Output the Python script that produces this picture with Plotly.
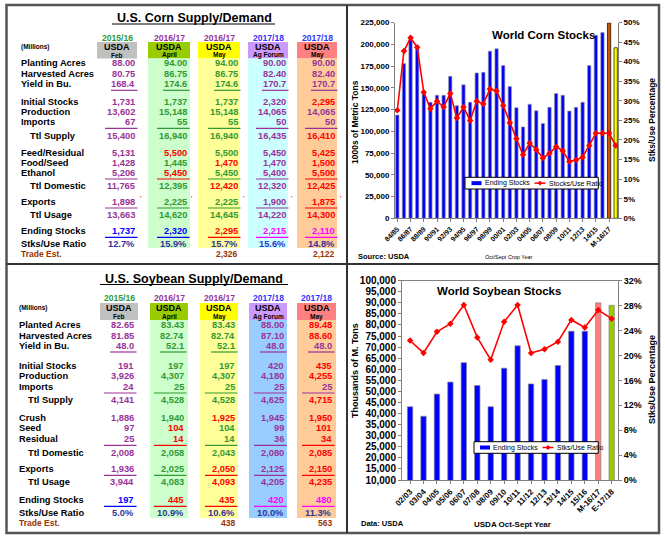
import plotly.graph_objects as go

W, H = 665, 540
FONT = "Liberation Sans, Arial, sans-serif"

# ---------------- chart data ----------------
corn_years = ["84/85", "85/86", "86/87", "87/88", "88/89", "89/90", "90/91", "91/92", "92/93",
              "93/94", "94/95", "95/96", "96/97", "97/98", "98/99", "99/00", "00/01", "01/02",
              "02/03", "03/04", "04/05", "05/06", "06/07", "07/08", "08/09", "09/10", "10/11",
              "11/12", "12/13", "13/14", "14/15", "15/16", "M-16/17", "17/18"]
corn_stocks = [118600, 177800, 205500, 198000, 143700, 133300, 141400, 141400, 163100, 129400,
               153400, 133300, 167000, 167700, 192100, 194800, 175500, 151500, 127100, 105000,
               131000, 123600, 109000, 127500, 143400, 141400, 123200, 127500, 133300, 175500,
               210300, 213400, 224500, 196000]
corn_ratio = [27.6, 42.7, 46.1, 43.7, 32.2, 28.0, 29.9, 28.4, 31.9, 25.6, 28.4, 25.0, 29.9, 29.2,
              33.0, 32.5, 28.8, 24.4, 20.3, 16.2, 19.2, 17.5, 15.4, 16.6, 18.3, 17.2, 14.5, 14.9,
              15.6, 18.6, 21.7, 21.7, 21.7, 18.6]

soy_years = ["02/03", "03/04", "04/05", "05/06", "06/07", "07/08", "08/09", "09/10", "10/11",
             "11/12", "12/13", "13/14", "14/15", "15/16", "M-16/17", "E-17/18"]
soy_stocks = [43100, 38800, 48800, 54200, 63000, 52700, 43100, 60500, 70600, 53400, 55400,
              61700, 77200, 77200, 90000, 88900]
soy_ratio = [22.4, 20.4, 23.8, 25.1, 28.1, 22.9, 19.3, 25.4, 28.1, 20.4, 21.0, 22.2, 25.7,
             24.5, 27.3, 25.9]

# ---------------- table data ----------------
col_years = ["2015/16", "2016/17", "2016/17", "2017/18", "2017/18"]
col_sources = ["Feb", "April", "May", "Ag Forum", "May"]

corn_rows = ["Planting Acres", "Harvested Acres", "Yield in Bu.", "Initial Stocks", "Production",
             "Imports", "Ttl Supply", "Feed/Residual", "Food/Seed", "Ethanol", "Ttl Domestic",
             "Exports", "Ttl Usage", "Ending Stocks", "Stks/Use Ratio"]
corn_c1 = ["88.00", "80.75", "168.4", "1,731", "13,602", "67", "15,400", "5,131", "1,428", "5,206",
           "11,765", "1,898", "13,663", "1,737", "12.7%"]
corn_c2 = ["94.00", "86.75", "174.6", "1,737", "15,148", "55", "16,940", "5,500", "1,445", "5,450",
           "12,395", "2,225", "14,620", "2,320", "15.9%"]
corn_c3 = ["94.00", "86.75", "174.6", "1,737", "15,148", "55", "16,940", "5,500", "1,470", "5,450",
           "12,420", "2,225", "14,645", "2,295", "15.7%"]
corn_c4 = ["90.00", "82.40", "170.7", "2,320", "14,065", "50", "16,435", "5,450", "1,470", "5,400",
           "12,320", "1,900", "14,220", "2,215", "15.6%"]
corn_c5 = ["90.00", "82.40", "170.7", "2,295", "14,065", "50", "16,410", "5,425", "1,500", "5,500",
           "12,425", "1,875", "14,300", "2,110", "14.8%"]
corn_trade = ["", "", "2,326", "", "2,122"]

soy_rows = ["Planted Acres", "Harvested Acres", "Yield in Bu.", "Initial Stocks", "Production",
            "Imports", "Ttl Supply", "Crush", "Seed", "Residual", "Ttl Domestic", "Exports",
            "Ttl Usage", "Ending Stocks", "Stks/Use Ratio"]
soy_c1 = ["82.65", "81.85", "48.0", "191", "3,926", "24", "4,141", "1,886", "97", "25", "2,008",
          "1,936", "3,944", "197", "5.0%"]
soy_c2 = ["83.43", "82.74", "52.1", "197", "4,307", "25", "4,528", "1,940", "104", "14", "2,058",
          "2,025", "4,083", "445", "10.9%"]
soy_c3 = ["83.43", "82.74", "52.1", "197", "4,307", "25", "4,528", "1,925", "104", "14", "2,043",
          "2,050", "4,093", "435", "10.6%"]
soy_c4 = ["88.00", "87.10", "48.0", "420", "4,180", "25", "4,625", "1,945", "99", "36", "2,080",
          "2,125", "4,205", "420", "10.0%"]
soy_c5 = ["89.48", "88.60", "48.0", "435", "4,255", "25", "4,715", "1,950", "101", "34", "2,085",
          "2,150", "4,235", "480", "11.3%"]
soy_trade = ["", "", "438", "", "563"]

# ---------------- styles ----------------
P, G, R, B, M, N, NB, BR = ("#993399", "#339933", "#ff0000", "#0000ff", "#ff00ff",
                            "#333399", "#3333cc", "#993300")
corn_colors = [
    [P] * 13 + [B, N],
    [G, G, G, G, G, G, G, R, G, R, G, G, G, B, N],
    [G, G, G, G, G, G, G, G, R, G, R, G, G, R, N],
    [P] * 13 + [M, NB],
    [P, P, P, R, P, P, R, R, R, R, R, R, R, M, N],
]
soy_colors = [
    [P] * 13 + [B, N],
    [G, G, G, G, G, G, G, G, R, R, G, G, G, R, N],
    [G, G, G, G, G, G, G, R, G, G, G, R, R, R, N],
    [P] * 13 + [M, N],
    [R, R, P, R, R, P, R, R, R, R, R, R, R, M, N],
]
year_colors = ["#339933", "#993399", "#993399", "#3333ff", "#3333ff"]
box_colors = ["#c0c0c0", "#99cc00", "#ffff00", "#cc99ff", "#ff8080"]
corn_bands = [None, "#ccffcc", "#ffff99", "#ccffff", "#ffcc99"]
soy_bands = [None, "#ccffcc", "#ffff99", "#99ccff", "#ffcc99"]


def px(x):
    return x / W


def py(y):
    return 1 - y / H


shapes = []
annotations = []


def text(x, y, s, size, color="black", anchor="left", bold=True, angle=0):
    annotations.append(dict(
        x=px(x), y=py(y), xref="paper", yref="paper", text=s, showarrow=False,
        xanchor=anchor, yanchor="middle", textangle=angle,
        font=dict(family=FONT, size=size, color=color, weight="bold" if bold else "normal"),
        borderpad=0))


def rect(x0, y0, x1, y1, fill, line=None, lw=0, layer="below"):
    shapes.append(dict(type="rect", xref="paper", yref="paper", x0=px(x0), x1=px(x1),
                       y0=py(y1), y1=py(y0), fillcolor=fill, layer=layer,
                       line=dict(color=line or fill, width=lw)))


def hline(x0, x1, y, color, width=1.0, layer="above"):
    shapes.append(dict(type="line", xref="paper", yref="paper", x0=px(x0), x1=px(x1),
                       y0=py(y), y1=py(y), layer=layer, line=dict(color=color, width=width)))


def vline(x, y0, y1, color, width=1.0):
    shapes.append(dict(type="line", xref="paper", yref="paper", x0=px(x), x1=px(x),
                       y0=py(y0), y1=py(y1), line=dict(color=color, width=width)))


def diamond(x, y, r, color):
    shapes.append(dict(type="path", xref="paper", yref="paper", layer="above",
                       path=f"M {px(x)},{py(y - r)} L {px(x + r)},{py(y)} L {px(x)},{py(y + r)} "
                            f"L {px(x - r)},{py(y)} Z",
                       fillcolor=color, line=dict(color=color, width=0.5)))


def draw_table(title, title_xy, ul, years_y, box_y, boxes_x, band_bottom, bands, rows, cols,
               colors, trade, row_ys, trade_y, label_x, rights, underline_rows, ticks_row=None):
    text(title_xy[0], title_xy[1], title, 12.5, anchor="center")
    hline(ul[0], ul[1], ul[2], "black", 1.2)
    text(label_x, box_y[0] + 5, "(Millions)", 6.5)
    for i in range(5):
        x0, x1 = boxes_x[i]
        cx = (x0 + x1) / 2
        text(cx, years_y, col_years[i], 8.6, year_colors[i], "center")
        rect(x0, box_y[0], x1, box_y[1], box_colors[i])
        if bands[i]:
            rect(x0, box_y[1], x1, band_bottom, bands[i])
        text(cx, box_y[0] + 4.5, "USDA", 9, anchor="center")
        text(cx, box_y[1] - 3.5, col_sources[i], 6.5, anchor="center")
    indented = {"Ttl Supply", "Ttl Domestic", "Ttl Usage"}
    for r, lab in enumerate(rows):
        lx = label_x + 8.5 if lab in indented else label_x
        text(lx, row_ys[r], lab, 9.3)
        for c in range(5):
            text(rights[c], row_ys[r], cols[c][r], 9.3, colors[c][r], "right")
            if r in underline_rows:
                w = 25 if r == 2 else 31
                hline(rights[c] - w, rights[c] + 1.5, row_ys[r] + 6.3, colors[c][r], 1.2)
            if ticks_row is not None and r == ticks_row:
                text(rights[c] + 2.5, row_ys[r] - 4, "'", 6, R)
    text(label_x, trade_y, "Trade Est.", 8.5, BR)
    for c in range(5):
        if trade[c]:
            text(rights[c], trade_y, trade[c], 8.5, BR, "right")


draw_table("U.S. Corn Supply/Demand", (194, 18), (112, 275, 24), 38, (42, 58.5),
           [(97, 137), (148, 190), (198, 240), (248, 288), (297, 337)], 248, corn_bands,
           corn_rows, [corn_c1, corn_c2, corn_c3, corn_c4, corn_c5], corn_colors, corn_trade,
           [63, 74, 84, 102, 112, 122, 135.7, 152.7, 162.7, 172.7, 186, 201.7, 215, 231, 244],
           254, 20, [136, 188, 239, 287, 336], {2, 5, 9, 11, 13}, ticks_row=11)

draw_table("U.S. Soybean Supply/Demand", (194, 279), (100, 288, 284.5), 298, (303, 320),
           [(100, 138), (150, 188), (200, 238), (249, 287), (297, 336)], 518, soy_bands,
           soy_rows, [soy_c1, soy_c2, soy_c3, soy_c4, soy_c5], soy_colors, soy_trade,
           [325, 335.7, 345.7, 365.7, 376, 386.7, 399.5, 417.7, 428.3, 439, 452.7, 469, 482.3,
            500, 513], 522.5, 18, [135, 185, 236, 285, 333], {2, 5, 9, 11, 13})

# frame and dividers
shapes.append(dict(type="rect", xref="paper", yref="paper", x0=px(6.5), x1=px(659),
                   y0=py(533), y1=py(5), line=dict(color="#555555", width=2.5)))
vline(347, 5, 533, "#333333", 2)
hline(6.5, 659, 264, "#333333", 2)


# manual legends (boxes drawn over the plots)
def legend_box(x0, y0, x1, y1, sw, t1, lx, t2):
    rect(x0, y0, x1, y1, "white", "black", 1, layer="above")
    yc = (y0 + y1) / 2
    rect(sw, yc - 2, sw + 10, yc + 2, "#0000ff", layer="above")
    text(sw + 12, yc, t1, 7, bold=False)
    hline(lx, lx + 11, yc, "#ff0000", 1.5)
    diamond(lx + 5.5, yc, 2.2, "#ff0000")
    text(lx + 13, yc, t2, 7, bold=False)


# ---------------- charts ----------------
fig = go.Figure()

corn_bar_colors = ["#0000ff"] * (len(corn_years) - 2) + ["#cc5500", "#ffff00"]
corn_bar_lines = ["#999999"] * (len(corn_years) - 2) + ["#000000", "#000000"]
fig.add_trace(go.Bar(x=corn_years, y=corn_stocks, name="Ending Stocks", width=0.5,
                     marker=dict(color=corn_bar_colors, line=dict(color=corn_bar_lines, width=0.7)),
                     xaxis="x", yaxis="y"))
fig.add_trace(go.Scatter(x=corn_years, y=corn_ratio, name="Stocks/Use Ratio", mode="lines+markers",
                         line=dict(color="#ff0000", width=1.6),
                         marker=dict(symbol="diamond", size=5, color="#ff0000"),
                         xaxis="x", yaxis="y2"))

soy_bar_colors = ["#0000ff"] * (len(soy_years) - 2) + ["#ff8080", "#99cc00"]
fig.add_trace(go.Bar(x=soy_years, y=soy_stocks, name="Ending Stocks", width=0.4,
                     marker=dict(color=soy_bar_colors, line=dict(color="#888888", width=0.7)),
                     xaxis="x2", yaxis="y3"))
fig.add_trace(go.Scatter(x=soy_years, y=soy_ratio, name="Stks/Use Ratio", mode="lines+markers",
                         line=dict(color="#ff0000", width=1.6),
                         marker=dict(symbol="diamond", size=5, color="#ff0000"),
                         xaxis="x2", yaxis="y4"))

axis_common = dict(showgrid=False, zeroline=False, showline=True, linecolor="#808080",
                   linewidth=1, ticks="outside", ticklen=3, tickcolor="#808080",
                   automargin=False)


def tickf(s):
    return dict(family=FONT, size=s, color="black", weight="bold")


fig.update_layout(
    width=W, height=H, margin=dict(l=0, r=0, t=0, b=0, autoexpand=False),
    paper_bgcolor="white", plot_bgcolor="white", showlegend=False,
    xaxis=dict(domain=[px(395), px(618)], anchor="y", range=[-0.35, len(corn_years) - 0.65],
               type="category", tickmode="array", tickvals=corn_years[::2],
               ticktext=corn_years[::2], tickangle=-45, tickfont=tickf(7), **axis_common),
    yaxis=dict(domain=[py(218.3), py(22.5)], anchor="x", range=[0, 225000], dtick=25000,
               tickformat=",d", tickfont=tickf(8), **axis_common),
    yaxis2=dict(overlaying="y", side="right", anchor="x", range=[0, 50], dtick=5,
                ticksuffix="%", tickfont=tickf(8), **axis_common),
    xaxis2=dict(domain=[px(402), px(618)], anchor="y3", range=[-0.6, len(soy_years) - 0.53],
                type="category", tickangle=-45, tickfont=tickf(8), mirror=True, **axis_common),
    yaxis3=dict(domain=[py(480), py(280.7)], anchor="x2", range=[10000, 100000], dtick=5000,
                tickformat=",d", tickfont=tickf(10), **axis_common),
    yaxis4=dict(overlaying="y3", side="right", anchor="x2", range=[0, 32], dtick=4,
                ticksuffix="%", tickfont=tickf(9), **axis_common),
    bargap=0.5,
)

legend_box(465, 177.3, 598.3, 189, 471.5, "Ending Stocks", 534.5, "Stocks/Use Ratio")
legend_box(474, 441.7, 598.3, 453.3, 480, "Ending Stocks", 542.5, "Stks/Use Ratio")

# chart texts
text(543, 35, "World Corn Stocks", 11.5, anchor="center")
text(355, 122, "1000s of Metric Tons", 8.5, anchor="center", angle=-90)
text(652, 120, "Stks/Use Percentage", 8.5, anchor="center", angle=-90)
text(357, 256.5, "Source: USDA", 7.5)
text(509, 256.5, "Oct/Sept Crop Year", 5.5, anchor="center", bold=False)

text(499, 291, "World Soybean Stocks", 11.5, anchor="center")
text(355, 371, "Thousands of M. Tons", 9, anchor="center", angle=-90)
text(652, 380, "Stks/Use Percentage", 9, anchor="center", angle=-90)
text(360, 523, "Data: USDA", 7.5)
text(512, 524, "USDA Oct-Sept Year", 8, anchor="center")

fig.update_layout(shapes=shapes, annotations=annotations)
fig.write_html("out.html", config={"displayModeBar": False},
               post_script="document.body.style.margin='0';document.body.style.overflow='hidden';")
